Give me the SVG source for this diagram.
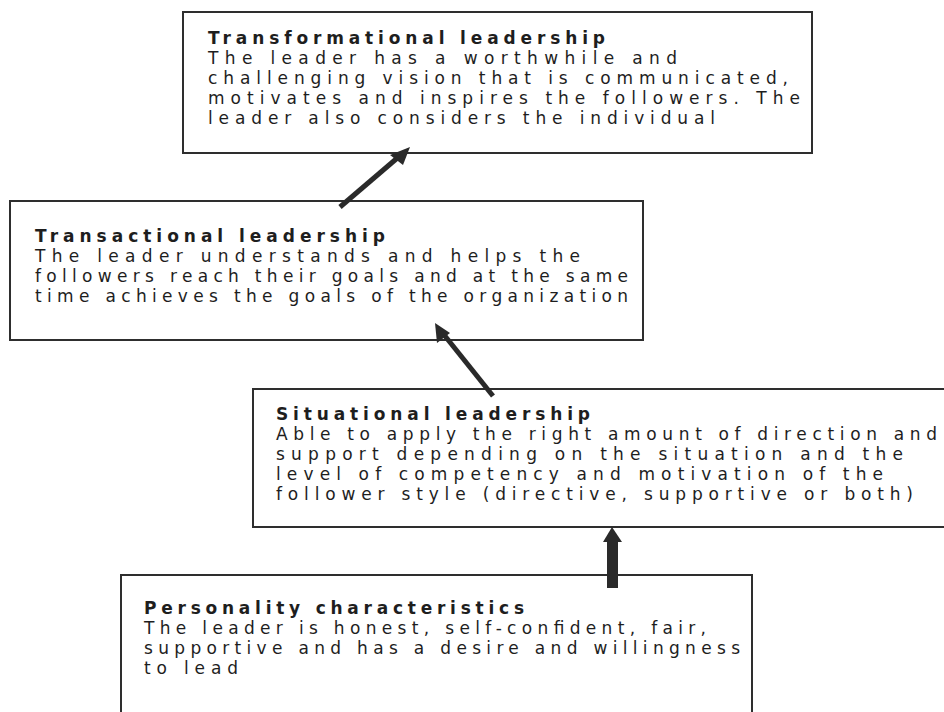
<svg xmlns="http://www.w3.org/2000/svg" width="944" height="712" viewBox="0 0 944 712">
<style>
.box{fill:#fff;stroke:#2e2e2e;stroke-width:2}
.t{font-family:"DejaVu Sans",Verdana,sans-serif;font-size:17px;font-weight:bold;fill:#1e1e1e}
.b{font-family:"DejaVu Sans",Verdana,sans-serif;font-size:17px;fill:#1e1e1e}
.conn{stroke:#2a2a2a;stroke-width:5;fill:none}
.head{fill:#2a2a2a}
</style>
<rect width="944" height="712" fill="#fff"/>
<g id="transformational">
<rect class="box" x="183" y="12" width="629" height="141"/>
<text class="t" x="208" y="44" textLength="397" lengthAdjust="spacing">Transformational leadership</text>
<text class="b" x="208" y="64" textLength="469" lengthAdjust="spacing">The leader has a worthwhile and</text>
<text class="b" x="208" y="84" textLength="580" lengthAdjust="spacing">challenging vision that is communicated,</text>
<text class="b" x="208" y="104" textLength="592" lengthAdjust="spacing">motivates and inspires the followers. The</text>
<text class="b" x="208" y="124" textLength="507" lengthAdjust="spacing">leader also considers the individual</text>
</g>
<g id="transactional">
<rect class="box" x="10" y="201" width="633" height="139"/>
<text class="t" x="35" y="242" textLength="350" lengthAdjust="spacing">Transactional leadership</text>
<text class="b" x="35" y="262" textLength="545" lengthAdjust="spacing">The leader understands and helps the</text>
<text class="b" x="35" y="282" textLength="593" lengthAdjust="spacing">followers reach their goals and at the same</text>
<text class="b" x="35" y="302" textLength="593" lengthAdjust="spacing">time achieves the goals of the organization</text>
</g>
<g id="situational">
<rect class="box" x="253" y="389" width="700" height="138"/>
<text class="t" x="276" y="420" textLength="314" lengthAdjust="spacing">Situational leadership</text>
<text class="b" x="276" y="440" textLength="661" lengthAdjust="spacing">Able to apply the right amount of direction and</text>
<text class="b" x="276" y="460" textLength="627" lengthAdjust="spacing">support depending on the situation and the</text>
<text class="b" x="276" y="480" textLength="607" lengthAdjust="spacing">level of competency and motivation of the</text>
<text class="b" x="276" y="500" textLength="637" lengthAdjust="spacing">follower style (directive, supportive or both)</text>
</g>
<g id="personality">
<rect class="box" x="121" y="575" width="631" height="150"/>
<text class="t" x="144" y="614" textLength="380" lengthAdjust="spacing">Personality characteristics</text>
<text class="b" x="144" y="634" textLength="562" lengthAdjust="spacing">The leader is honest, self-confident, fair,</text>
<text class="b" x="144" y="654" textLength="596" lengthAdjust="spacing">supportive and has a desire and willingness</text>
<text class="b" x="144" y="674" textLength="94" lengthAdjust="spacing">to lead</text>
</g>
<g id="connectors">
<line class="conn" x1="340" y1="207" x2="402" y2="154"/>
<polygon class="head" points="410,147 390,155 403,165"/>
<line class="conn" x1="493" y1="396" x2="441" y2="331"/>
<polygon class="head" points="435,323 437,343 450,333"/>
<rect class="head" x="607" y="541" width="11" height="47"/>
<polygon class="head" points="612,527 603,542 622,542"/>
</g>
</svg>
